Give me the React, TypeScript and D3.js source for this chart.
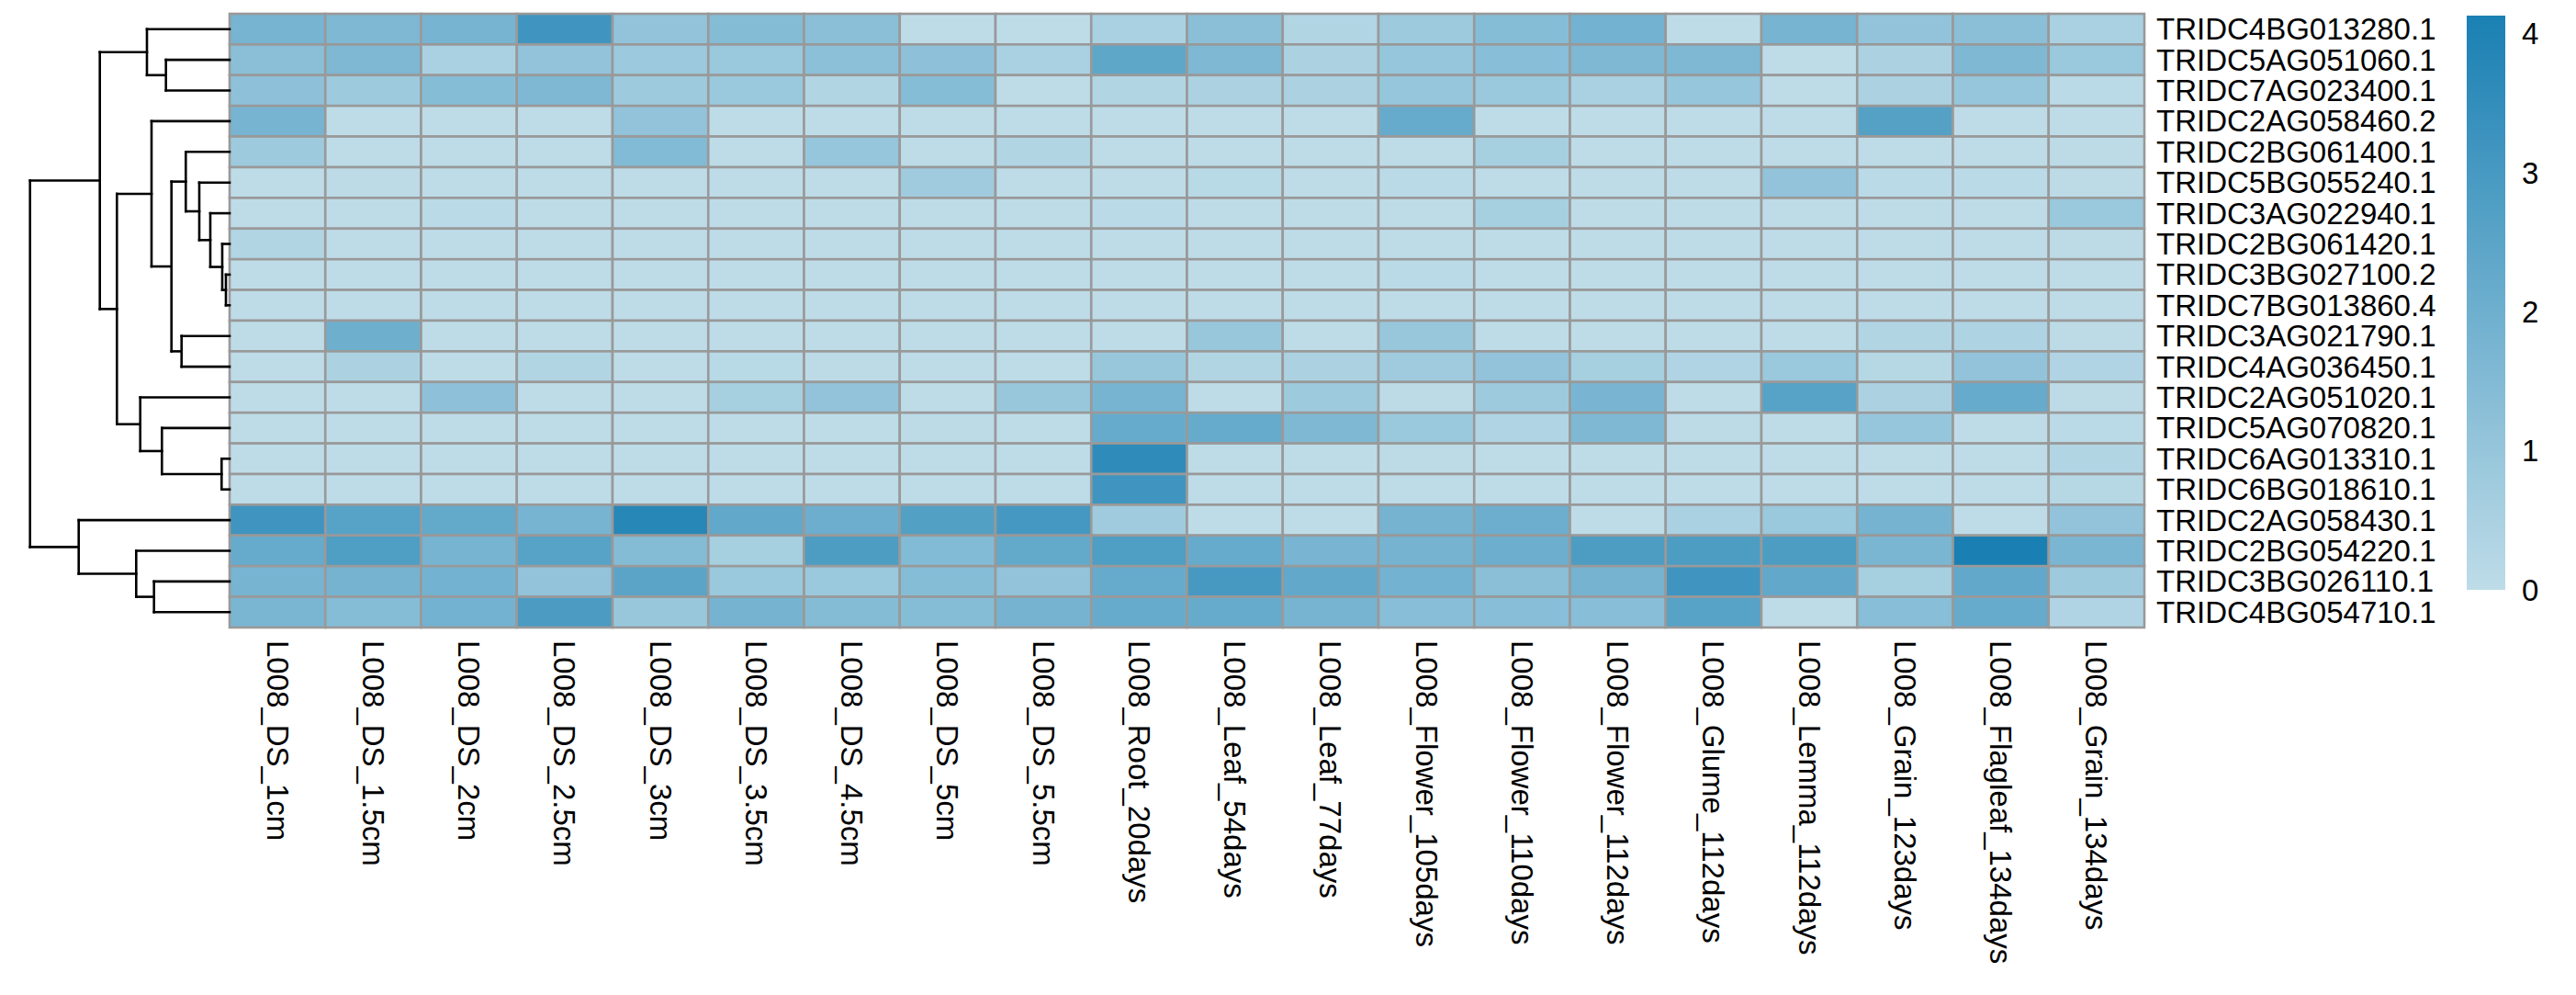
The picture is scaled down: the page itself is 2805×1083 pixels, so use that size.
import React from "react";
import * as d3 from "d3";

const rowLabels: string[] = [
  "TRIDC4BG013280.1", "TRIDC5AG051060.1", "TRIDC7AG023400.1", "TRIDC2AG058460.2",
  "TRIDC2BG061400.1", "TRIDC5BG055240.1", "TRIDC3AG022940.1", "TRIDC2BG061420.1",
  "TRIDC3BG027100.2", "TRIDC7BG013860.4", "TRIDC3AG021790.1", "TRIDC4AG036450.1",
  "TRIDC2AG051020.1", "TRIDC5AG070820.1", "TRIDC6AG013310.1", "TRIDC6BG018610.1",
  "TRIDC2AG058430.1", "TRIDC2BG054220.1", "TRIDC3BG026110.1", "TRIDC4BG054710.1",
];

const colLabels: string[] = [
  "L008_DS_1cm", "L008_DS_1.5cm", "L008_DS_2cm", "L008_DS_2.5cm", "L008_DS_3cm",
  "L008_DS_3.5cm", "L008_DS_4.5cm", "L008_DS_5cm", "L008_DS_5.5cm", "L008_Root_20days",
  "L008_Leaf_54days", "L008_Leaf_77days", "L008_Flower_105days", "L008_Flower_110days",
  "L008_Flower_112days", "L008_Glume_112days", "L008_Lemma_112days", "L008_Grain_123days",
  "L008_Flagleaf_134days", "L008_Grain_134days",
];

// one row per gene, one value per sample
const values: number[][] = [
  [1.8, 1.6, 1.8, 3.2, 1.1, 1.45, 1.3, 0, 0, 0.5, 1.3, 0.3, 0.8, 1.4, 1.9, 0, 1.8, 1.1, 1.3, 0.5],
  [1.3, 1.6, 0.5, 1.1, 0.85, 0.9, 1.25, 1.2, 0.5, 2.4, 1.6, 0.45, 1.0, 1.35, 1.6, 1.6, 0, 0.45, 1.6, 0.9],
  [1.2, 0.8, 1.4, 1.6, 0.8, 0.9, 0.3, 1.4, 0, 0.3, 0.45, 0.45, 1.0, 0.9, 0.5, 1.0, 0, 0.45, 1.0, 0.1],
  [1.8, 0, 0, 0, 1.1, 0, 0, 0, 0, 0, 0, 0, 2.2, 0, 0, 0, 0, 2.65, 0, 0],
  [0.8, 0, 0, 0, 1.5, 0, 1.0, 0, 0.3, 0, 0, 0, 0, 0.6, 0, 0, 0, 0, 0, 0.05],
  [0.02, 0.05, 0.02, 0.02, 0, 0, 0, 0.75, 0, 0, 0.15, 0, 0.1, 0, 0, 0, 1.1, 0.1, 0.1, 0.05],
  [0, 0, 0.1, 0, 0, 0, 0, 0, 0, 0.1, 0, 0, 0, 0.6, 0, 0, 0, 0, 0, 0.9],
  [0.3, 0, 0, 0, 0, 0, 0, 0, 0, 0, 0, 0, 0, 0, 0, 0, 0, 0, 0, 0.05],
  [0, 0, 0, 0, 0, 0, 0, 0, 0, 0, 0, 0, 0.1, 0, 0, 0, 0, 0, 0, 0],
  [0, 0, 0, 0, 0, 0, 0, 0, 0, 0, 0, 0, 0, 0, 0, 0, 0, 0, 0, 0],
  [0, 2.0, 0, 0, 0, 0, 0, 0, 0, 0, 0.95, 0, 0.95, 0, 0, 0, 0, 0.3, 0.4, 0.05],
  [0, 0.45, 0, 0.3, 0, 0.15, 0.05, 0, 0, 0.95, 0.3, 0.45, 0.75, 1.1, 0.6, 0.35, 0.9, 0.2, 1.1, 0.35],
  [0, 0, 1.2, 0, 0, 0.6, 1.1, 0, 0.95, 1.8, 0, 0.8, 0.05, 0.8, 1.75, 0, 2.6, 0.45, 2.2, 0.05],
  [0, 0, 0, 0, 0, 0, 0, 0.05, 0, 2.2, 2.2, 1.6, 0.9, 0.35, 1.6, 0.05, 0, 1.0, 0, 0.1],
  [0, 0, 0, 0, 0, 0, 0, 0, 0, 3.6, 0, 0, 0.05, 0, 0, 0, 0, 0, 0, 0.3],
  [0, 0, 0, 0, 0, 0, 0, 0, 0, 3.2, 0, 0, 0, 0, 0, 0, 0, 0, 0, 0.2],
  [3.2, 2.6, 2.3, 1.8, 3.8, 2.35, 2.05, 2.7, 3.05, 0.75, 0, 0, 1.85, 2.05, 0, 0.5, 0.9, 1.85, 0, 1.1],
  [2.2, 2.8, 1.8, 2.6, 1.45, 0.6, 2.85, 1.5, 2.3, 2.8, 2.2, 1.75, 1.85, 2.05, 2.85, 2.85, 2.85, 1.7, 4.13, 1.7],
  [1.8, 1.85, 1.9, 1.1, 2.5, 0.9, 0.9, 1.4, 1.1, 2.2, 3.0, 2.35, 1.9, 1.3, 1.85, 3.2, 2.35, 0.6, 2.35, 0.8],
  [1.7, 1.4, 1.9, 2.9, 0.95, 1.85, 1.45, 1.4, 1.85, 2.2, 2.2, 1.8, 1.35, 1.35, 1.35, 2.6, 0, 1.35, 2.2, 0.35],
];

// hclust-style merge list: negative = leaf (row number), positive = earlier merge; third = height
const merges: [number, number, number][] = [
  [-9, -10, 4], [-8, 1, 8], [-15, -16, 8.7], [-7, 2, 21], [-6, 4, 33],
  [-5, 5, 47.7], [-11, -12, 52.3], [6, 7, 63.3], [-2, -3, 69.3], [-14, 3, 73.7],
  [-19, -20, 82.3], [-4, 8, 85], [-1, 9, 90], [-13, 10, 97.3], [-18, 11, 101.7],
  [12, 14, 122.7], [13, 16, 141.3], [-17, 15, 164.3], [17, 18, 217.3],
];

const legendTicks: number[] = [0, 1, 2, 3, 4];

const W = 2805, H = 1083;
const hmLeft = 250, hmRight = 2335, hmTop = 15, hmBottom = 683;
const dendLeft = 32.7;
const FONT = "'Liberation Sans', Arial, Helvetica, sans-serif";
const FS = 33;

export default function App() {
  const x = d3.scaleBand<number>().domain(d3.range(colLabels.length)).range([hmLeft, hmRight]);
  const y = d3.scaleBand<number>().domain(d3.range(rowLabels.length)).range([hmTop, hmBottom]);
  const vmax = d3.max(values.flat()) as number;
  const color = d3.scaleLinear<string>().domain([0, vmax]).range(["#BEDCE8", "#1A80B3"]).interpolate(d3.interpolateRgb);

  // dendrogram
  const hx = d3.scaleLinear().domain([0, merges[merges.length - 1][2]]).range([hmLeft, dendLeft]);
  const nodePos: { x: number; y: number }[] = [];
  const pos = (id: number) => (id < 0 ? { x: hmLeft, y: (y(-id - 1) as number) + y.bandwidth() / 2 } : nodePos[id - 1]);
  const segs: [number, number, number, number][] = [];
  merges.forEach(([a, b, h]) => {
    const pa = pos(a), pb = pos(b);
    const nx = hx(h);
    segs.push([nx, pa.y, nx, pb.y]);
    segs.push([nx, pa.y, pa.x, pa.y]);
    segs.push([nx, pb.y, pb.x, pb.y]);
    nodePos.push({ x: nx, y: (pa.y + pb.y) / 2 });
  });

  // legend
  const legX = 2686, legW = 42, legBottom = 642, legTop = 17;
  const ly = d3.scaleLinear().domain([0, vmax]).range([legBottom, legTop]);

  return (
    <svg width={W} height={H} style={{ position: "absolute", left: 0, top: 0, background: "#fff" }} fontFamily={FONT}>
      <rect x={0} y={0} width={W} height={H} fill="#fff" />
      <g>
        {values.map((row, i) =>
          row.map((v, j) => (
            <rect key={`${i}-${j}`} x={x(j)} y={y(i)} width={x.bandwidth()} height={y.bandwidth()}
              fill={color(v)} stroke="#999999" strokeWidth={2.6} />
          ))
        )}
      </g>
      <g stroke="#000" strokeWidth={2.6} strokeLinecap="square">
        {segs.map((s, i) => (
          <line key={i} x1={s[0]} y1={s[1]} x2={s[2]} y2={s[3]} />
        ))}
      </g>
      <g fontSize={FS} fill="#000">
        {rowLabels.map((r, i) => (
          <text key={r} x={hmRight + 13} y={(y(i) as number) + y.bandwidth() / 2} dominantBaseline="central">{r}</text>
        ))}
      </g>
      <g fontSize={FS} fill="#000">
        {colLabels.map((c, j) => (
          <text key={c} transform={`translate(${(x(j) as number) + x.bandwidth() / 2},${hmBottom + 14}) rotate(90)`}
            dominantBaseline="central" textAnchor="start">{c}</text>
        ))}
      </g>
      <defs>
        <linearGradient id="leg" x1="0" y1="1" x2="0" y2="0">
          {d3.range(0, 1.0001, 0.1).map((t) => (
            <stop key={t} offset={t} stopColor={color(t * vmax)} />
          ))}
        </linearGradient>
      </defs>
      <rect x={legX} y={legTop} width={legW} height={legBottom - legTop} fill="url(#leg)" />
      <g fontSize={FS} fill="#000">
        {legendTicks.map((t) => (
          <text key={t} x={2746} y={ly(t)} dominantBaseline="central">{t}</text>
        ))}
      </g>
    </svg>
  );
}
